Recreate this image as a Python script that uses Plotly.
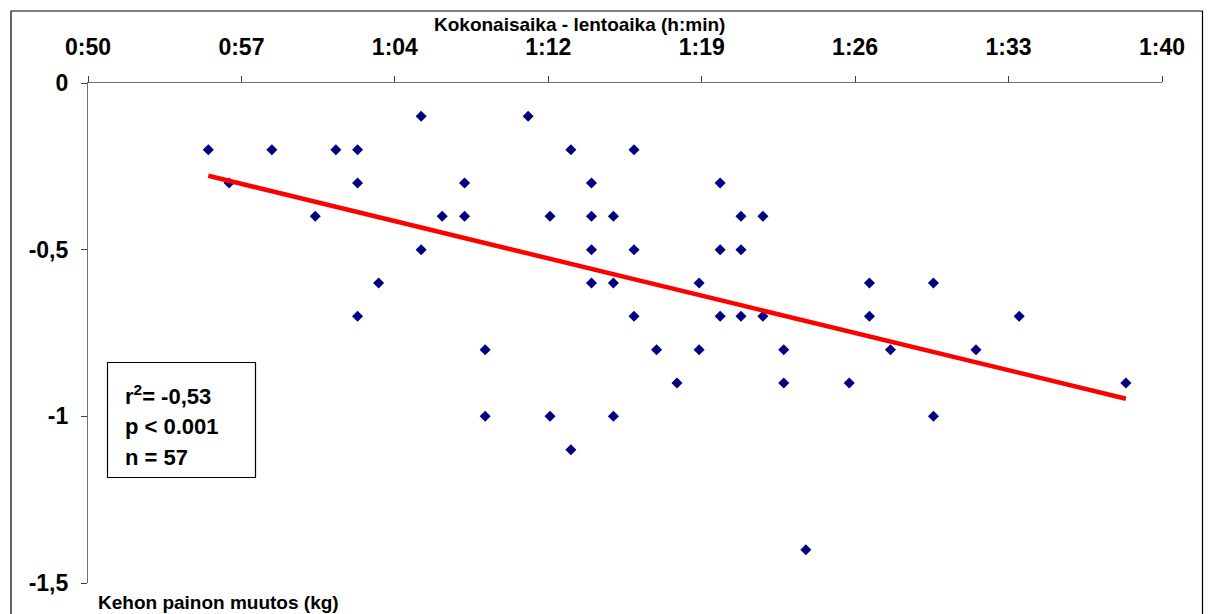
import numpy as np
import plotly.graph_objects as go

# Total time - flight time (minutes) and body weight change (kg)
time_min = [
    65.51, 70.49,
    55.60, 58.56, 61.54, 62.55, 72.48, 75.42,
    56.57, 62.55, 67.53, 73.44, 79.43,
    60.58, 66.49, 67.53, 71.51, 73.44, 74.46, 80.40, 81.42,
    65.51, 73.44, 75.42, 79.43, 80.40,
    63.53, 73.44, 74.46, 78.45, 86.38, 89.36,
    62.55, 75.42, 79.43, 80.40, 81.42, 86.38, 93.35,
    68.49, 76.47, 78.45, 82.39, 87.36, 91.34,
    77.42, 82.39, 85.44, 98.32,
    68.49, 71.51, 74.46, 89.36,
    72.48,
    83.42,
]
weight_change = (
    [-0.1] * 2 + [-0.2] * 6 + [-0.3] * 5 + [-0.4] * 8 + [-0.5] * 5 +
    [-0.6] * 6 + [-0.7] * 7 + [-0.8] * 6 + [-0.9] * 4 + [-1.0] * 4 +
    [-1.1] * 1 + [-1.4] * 1
)

x_tick_labels = ["0:50", "0:57", "1:04", "1:12", "1:19", "1:26", "1:33", "1:40"]
x_min, x_max = 50, 100
y_tick_vals = [0, -0.5, -1, -1.5]
y_tick_labels = ["0", "-0,5", "-1", "-1,5"]

stats_lines = ["r<sup>2</sup>= -0,53", "p < 0.001", "n = 57"]
x_title = "Kokonaisaika - lentoaika (h:min)"
y_title = "Kehon painon muutos (kg)"

# Linear trend line computed from the data
xs = np.array(time_min)
ys = np.array(weight_change)
slope, intercept = np.polyfit(xs, ys, 1)
trend_x = [xs.min(), xs.max()]
trend_y = [intercept + slope * v for v in trend_x]

FONT = "Liberation Sans, Arial, sans-serif"
W, H = 1210, 614
L, R, T, B = 88, 48, 83, 31
pw, ph = W - L - R, H - T - B

fig = go.Figure()
fig.add_trace(go.Scatter(
    x=time_min, y=weight_change, mode="markers",
    marker=dict(symbol="diamond", size=8.5, color="#000080"),
    showlegend=False, hoverinfo="skip",
))
fig.add_trace(go.Scatter(
    x=trend_x, y=trend_y, mode="lines",
    line=dict(color="#FF0000", width=4.5),
    showlegend=False, hoverinfo="skip",
))

step = (x_max - x_min) / (len(x_tick_labels) - 1)
tick_vals = [x_min + i * step for i in range(len(x_tick_labels))]

fig.update_xaxes(
    range=[x_min, x_max], side="top",
    tickvals=tick_vals, ticktext=x_tick_labels,
    showline=True, linecolor="#707070", linewidth=1.2,
    ticks="outside", ticklen=6, tickcolor="#404040", tickwidth=1,
    showgrid=False, zeroline=False,
    tickfont=dict(family=FONT, size=23, color="black", weight="bold"),
    ticklabelstandoff=12,
)
fig.update_yaxes(
    range=[-1.5, 0],
    tickvals=y_tick_vals, ticktext=y_tick_labels,
    showline=True, linecolor="#707070", linewidth=1.2,
    ticks="outside", ticklen=6, tickcolor="#404040", tickwidth=1,
    showgrid=False, zeroline=False,
    tickfont=dict(family=FONT, size=23, color="black", weight="bold"),
    ticklabelstandoff=8,
)

def px_x(p):
    return (p - L) / pw

def px_y(p):
    return (H - B - p) / ph

shapes = [
    # outer chart border
    dict(type="rect", xref="paper", yref="paper",
         x0=px_x(11), x1=px_x(1202.5), y0=px_y(625), y1=px_y(11),
         line=dict(color="black", width=1.2), fillcolor="rgba(0,0,0,0)"),
    # stats box
    dict(type="rect", xref="paper", yref="paper",
         x0=px_x(107.5), x1=px_x(255.5), y0=px_y(477.5), y1=px_y(362.5),
         line=dict(color="black", width=1.2), fillcolor="white"),
]

annotations = [
    dict(text=x_title, xref="paper", yref="paper", x=px_x(432), y=px_y(25),
         xanchor="left", yanchor="middle", showarrow=False,
         font=dict(family=FONT, size=19, color="black", weight="bold")),
    dict(text=y_title, xref="paper", yref="paper", x=px_x(96), y=px_y(602),
         xanchor="left", yanchor="middle", showarrow=False,
         font=dict(family=FONT, size=19, color="black", weight="bold")),
]
for i, line in enumerate(stats_lines):
    annotations.append(dict(
        text=line, xref="paper", yref="paper", x=px_x(123), y=px_y(395 + 31 * i),
        xanchor="left", yanchor="middle", showarrow=False,
        font=dict(family=FONT, size=22, color="black", weight="bold")))

fig.update_layout(
    width=W, height=H,
    margin=dict(l=L, r=R, t=T, b=B),
    paper_bgcolor="white", plot_bgcolor="white",
    shapes=shapes, annotations=annotations,
)

fig.write_html("out.html")
